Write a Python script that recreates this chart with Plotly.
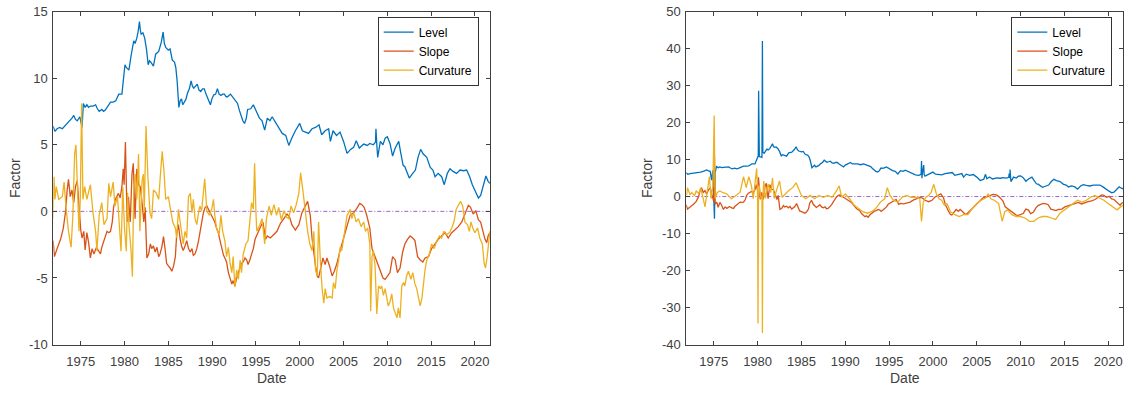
import pandas as pd
import plotly.graph_objects as go

# ---------------- data (decimal years) ----------------
level_t = [1971.85,1972.05,1972.3,1972.6,1972.9,1973.2,1973.5,1973.8,1974.0,1974.2,1974.4,1974.6,1974.9,
           1975.15,1975.3,1975.5,1975.7,1975.9,1976.1,1976.4,1976.7,1976.9,1977.1,1977.4,1977.6,1977.8,
           1978.1,1978.4,1978.7,1979.0,1979.2,1979.35,1979.7,1979.9,1980.05,1980.2,1980.5,1980.75,1981.05,
           1981.2,1981.4,1981.55,1981.7,1981.8,1981.9,1982.1,1982.3,1982.5,1982.7,1982.85,1983.0,1983.3,
           1983.55,1983.9,1984.2,1984.4,1984.55,1984.7,1985.0,1985.2,1985.45,1985.7,1985.85,1986.0,1986.2,
           1986.35,1986.5,1986.65,1986.8,1987.0,1987.2,1987.4,1987.6,1987.75,1987.9,1988.1,1988.3,1988.5,
           1988.7,1988.9,1989.1,1989.3,1989.5,1989.8,1990.0,1990.2,1990.4,1990.6,1990.8,1991.0,1991.2,
           1991.4,1991.6,1991.75,1992.1,1992.3,1992.5,1992.7,1992.9,1993.1,1993.3,1993.5,1993.7,1993.9,
           1994.05,1994.4,1994.7,1995.1,1995.4,1995.7,1996.0,1996.3,1996.6,1996.85,1997.2,1997.6,1998.0,
           1998.4,1998.75,1999.1,1999.5,2000.0,2000.3,2000.65,2001.0,2001.4,2001.8,2002.2,2002.5,2002.9,
           2003.3,2003.5,2003.8,2004.2,2004.6,2005.0,2005.4,2005.8,2006.15,2006.45,2006.8,2007.3,2007.7,
           2008.0,2008.4,2008.65,2008.7,2008.8,2008.9,2009.2,2009.5,2009.75,2010.0,2010.3,2010.6,2010.9,
           2011.3,2011.5,2011.8,2012.0,2012.3,2012.5,2012.9,2013.2,2013.5,2013.8,2014.1,2014.5,2014.9,
           2015.2,2015.45,2015.8,2016.2,2016.5,2016.85,2017.15,2017.5,2017.9,2018.3,2018.7,2019.05,2019.4,
           2019.7,2020.1,2020.4,2020.65,2020.95,2021.25,2021.5,2021.7]
level_v = [6.4,6.0,6.2,6.3,6.2,6.4,6.6,6.8,7.0,7.2,6.9,6.8,7.1,
           6.3,8.1,7.8,8.0,7.8,7.9,7.9,8.0,7.7,7.5,7.65,7.5,7.6,
           7.9,8.2,8.2,8.3,8.6,8.8,8.8,9.9,11.0,10.8,10.6,11.7,12.8,
           12.6,13.0,13.5,14.25,13.6,13.3,13.4,13.0,12.2,11.0,11.3,11.2,10.9,
           11.8,12.0,12.7,13.45,12.6,12.3,12.1,12.2,11.35,11.2,10.8,9.8,7.8,
           8.3,8.45,8.0,8.2,8.4,8.9,9.2,9.8,9.4,9.25,9.4,9.55,9.1,
           9.0,9.2,9.2,8.8,8.45,8.0,8.5,8.75,8.8,9.2,8.8,8.7,8.8,
           8.8,8.6,8.6,8.8,8.6,8.45,8.3,8.1,7.6,7.1,6.8,6.6,7.0,
           7.65,7.7,8.0,7.4,7.0,6.8,6.1,7.0,6.8,7.1,6.7,6.3,5.85,
           5.7,4.95,5.5,6.05,6.6,6.05,5.95,5.85,6.2,6.3,6.5,5.75,6.05,
           6.2,5.25,6.05,5.7,5.95,5.25,4.35,4.65,4.8,5.3,4.75,5.05,4.95,
           5.1,5.0,5.2,6.2,5.0,4.05,5.25,5.0,5.5,5.6,5.1,4.15,4.75,
           5.25,4.5,3.45,3.35,2.85,2.5,2.85,3.1,4.05,4.65,4.3,4.05,3.3,
           3.1,2.6,2.85,2.6,2.0,2.85,3.2,3.0,2.85,3.1,3.05,3.1,2.6,
           2.0,1.45,1.0,1.2,1.9,2.65,2.25,2.1]

slope_t = [1971.85,1972.0,1972.3,1972.7,1973.0,1973.25,1973.45,1973.6,1973.8,1974.0,1974.2,1974.4,1974.6,
           1974.8,1975.0,1975.15,1975.35,1975.5,1975.7,1975.9,1976.1,1976.3,1976.5,1976.8,1977.05,1977.25,
           1977.4,1977.6,1977.8,1978.0,1978.2,1978.4,1978.6,1978.75,1978.95,1979.15,1979.3,1979.5,1979.7,
           1979.85,1979.95,1980.1,1980.3,1980.45,1980.65,1980.85,1981.0,1981.2,1981.4,1981.6,1981.8,1982.0,
           1982.2,1982.35,1982.55,1982.75,1982.95,1983.1,1983.3,1983.5,1983.7,1983.9,1984.05,1984.25,1984.45,
           1984.65,1984.8,1985.0,1985.2,1985.4,1985.6,1985.8,1985.95,1986.15,1986.35,1986.55,1986.7,1986.9,
           1987.1,1987.3,1987.5,1987.7,1987.85,1988.05,1988.25,1988.45,1988.6,1988.8,1989.0,1989.2,1989.4,
           1989.55,1989.75,1989.95,1990.15,1990.3,1990.5,1990.7,1990.9,1991.1,1991.3,1991.45,1991.65,1991.85,
           1992.05,1992.25,1992.4,1992.6,1992.8,1993.0,1993.2,1993.35,1993.55,1993.75,1993.95,1994.1,1994.3,
           1994.5,1994.7,1994.9,1995.1,1995.3,1995.5,1995.8,1996.1,1996.3,1996.65,1997.0,1997.4,1997.8,
           1998.2,1998.55,1998.85,1999.1,1999.5,1999.9,2000.25,2000.65,2000.9,2001.2,2001.4,2001.8,2002.0,
           2002.15,2002.35,2002.65,2002.9,2003.1,2003.4,2003.7,2003.95,2004.25,2004.6,2005.0,2005.4,2005.75,
           2006.15,2006.5,2006.85,2007.1,2007.35,2007.65,2008.0,2008.25,2008.4,2008.75,2009.0,2009.25,2009.5,
           2009.75,2010.0,2010.3,2010.6,2010.9,2011.15,2011.45,2011.75,2012.0,2012.3,2012.6,2012.9,2013.15,
           2013.45,2013.75,2014.05,2014.3,2014.7,2015.05,2015.45,2015.8,2016.2,2016.6,2016.95,2017.35,2017.7,
           2018.1,2018.5,2018.85,2019.25,2019.5,2019.8,2020.1,2020.4,2020.65,2020.95,2021.15,2021.35,2021.5,
           2021.7]
slope_v = [-2.2,-3.4,-2.8,-2.1,-1.3,-0.1,1.6,2.4,1.1,1.6,0.65,1.85,2.3,
           0.2,-1.4,-2.0,-1.5,-2.9,-1.6,-2.35,-3.5,-2.8,-3.2,-2.7,-3.05,-3.2,
           -2.7,-2.35,-1.9,-1.5,-1.6,-1.5,-0.8,0.3,0.9,1.1,1.35,1.0,1.85,
           3.2,2.0,5.2,-0.8,1.1,-0.8,2.8,3.6,-0.55,3.2,2.0,1.85,0.65,
           -0.8,0.3,-3.5,-3.2,-2.45,-2.8,-2.6,-3.05,-2.7,-3.4,-3.2,-2.7,-1.9,
           -2.95,-3.9,-4.1,-4.25,-4.5,-4.1,-3.4,-1.75,-1.0,-2.1,-2.7,-2.95,-2.6,
           -2.2,-2.8,-3.05,-2.8,-3.3,-3.2,-2.8,-2.2,-1.6,-0.8,-0.1,0.3,0.4,
           0.2,-0.1,-0.3,-0.65,-0.8,-1.25,-1.6,-2.2,-2.8,-3.3,-3.5,-3.8,-4.6,
           -5.1,-5.45,-5.2,-5.6,-5.0,-4.6,-4.25,-3.9,-3.8,-3.5,-3.65,-4.0,-3.65,
           -3.3,-2.8,-2.1,-1.85,-1.5,-1.2,-0.8,-2.1,-1.85,-2.0,-1.75,-1.5,-0.9,
           -0.55,-0.2,-0.45,-1.0,-1.4,-1.0,-0.1,0.5,0.75,-0.3,-2.0,-4.1,-4.85,
           -5.0,-4.4,-3.5,-4.0,-3.5,-4.1,-4.85,-4.5,-3.9,-2.95,-2.0,-1.0,-0.3,
           -0.1,0.2,0.6,0.5,0.3,-0.3,-1.25,-2.8,-3.05,-3.65,-4.1,-4.6,-5.0,
           -5.1,-4.85,-4.6,-3.4,-3.65,-4.6,-4.25,-3.05,-2.45,-2.1,-1.85,-2.0,-2.2,
           -3.4,-3.65,-3.8,-3.5,-3.4,-2.8,-2.45,-2.1,-1.85,-1.6,-2.0,-1.6,-1.4,
           -1.15,-0.8,-0.2,0.45,0.3,-0.2,0.05,-0.65,-0.8,-1.5,-2.1,-2.35,-1.85,
           -1.6]

curv_t = [1971.8,1971.95,1972.05,1972.2,1972.5,1972.9,1973.1,1973.3,1973.6,1973.9,1974.1,1974.3,1974.45,
          1974.6,1974.8,1974.95,1975.1,1975.25,1975.45,1975.7,1976.1,1976.4,1976.7,1976.85,1977.1,1977.4,
          1977.65,1978.0,1978.2,1978.4,1978.7,1978.9,1979.2,1979.45,1979.6,1979.8,1980.0,1980.2,1980.35,
          1980.5,1980.75,1980.9,1981.05,1981.25,1981.4,1981.6,1981.75,1982.0,1982.15,1982.25,1982.45,1982.65,
          1982.9,1983.1,1983.3,1983.6,1983.9,1984.1,1984.3,1984.5,1984.7,1985.0,1985.25,1985.5,1985.8,
          1985.95,1986.15,1986.35,1986.55,1986.7,1986.9,1987.1,1987.3,1987.5,1987.7,1987.85,1988.05,1988.25,
          1988.45,1988.6,1988.8,1989.0,1989.15,1989.4,1989.7,1989.95,1990.15,1990.3,1990.5,1990.8,1991.0,
          1991.2,1991.45,1991.65,1991.85,1992.05,1992.25,1992.4,1992.6,1992.8,1993.0,1993.2,1993.35,1993.55,
          1993.85,1994.1,1994.3,1994.5,1994.7,1994.85,1995.0,1995.1,1995.45,1995.7,1996.0,1996.2,1996.5,
          1996.75,1997.05,1997.35,1997.6,1997.9,1998.2,1998.5,1998.75,1999.0,1999.3,1999.6,1999.9,2000.1,
          2000.4,2000.65,2000.9,2001.15,2001.4,2001.6,2001.8,2002.0,2002.15,2002.35,2002.55,2002.75,2002.9,
          2003.1,2003.4,2003.7,2003.85,2004.05,2004.25,2004.45,2004.6,2004.8,2005.0,2005.2,2005.4,2005.6,
          2005.75,2005.95,2006.15,2006.45,2006.7,2007.0,2007.3,2007.5,2007.75,2008.0,2008.1,2008.25,2008.4,
          2008.6,2008.8,2009.0,2009.2,2009.35,2009.55,2009.75,2009.95,2010.1,2010.3,2010.5,2010.7,2010.9,
          2011.1,2011.25,2011.45,2011.65,2011.85,2012.0,2012.2,2012.4,2012.7,2012.9,2013.15,2013.35,2013.55,
          2013.75,2013.95,2014.1,2014.3,2014.5,2014.8,2015.05,2015.35,2015.65,2015.95,2016.2,2016.45,2016.75,
          2017.1,2017.35,2017.6,2017.85,2018.1,2018.35,2018.6,2018.85,2019.15,2019.35,2019.55,2019.75,2020.0,
          2020.3,2020.55,2020.85,2021.05,2021.2,2021.4,2021.55,2021.7]
curv_v = [-0.55,2.6,0.9,1.85,0.9,1.1,2.2,0.4,-1.5,-2.7,-0.3,4.3,5.0,
          2.3,-1.5,0.9,8.1,0.9,1.85,0.9,2.0,-0.1,-1.5,-3.0,-0.3,0.65,
          -1.0,-0.55,2.1,1.1,2.2,0.4,1.1,-1.5,-3.0,1.85,-1.3,-3.0,1.4,
          -1.0,-3.0,-4.9,1.85,2.8,0.9,4.3,-1.5,2.3,2.8,-0.1,6.4,2.8,
          -0.1,-0.55,1.6,1.4,0.9,2.8,4.5,3.05,0.9,1.1,0.0,-0.8,-1.25,
          -2.0,0.15,-0.8,-1.85,-2.45,-1.5,-2.0,1.1,1.35,-0.1,0.9,-0.55,-1.0,
          -0.1,0.4,0.05,1.85,2.45,0.0,-0.3,0.15,0.9,-0.3,-1.25,-1.75,-0.3,
          -1.5,-2.2,-3.4,-2.7,-3.9,-4.6,-3.4,-5.7,-4.4,-5.1,-3.65,-4.6,-3.2,
          -2.45,-2.2,-0.55,0.65,0.15,3.6,-0.1,-1.5,-1.0,-0.55,-2.45,-0.55,0.4,
          -0.3,0.5,-0.3,0.3,-0.65,0.05,-0.45,-0.55,0.4,-0.1,0.5,1.35,2.9,
          1.35,-0.3,-1.5,-2.45,-2.95,-1.5,-4.4,-4.85,-0.8,-3.65,-5.8,-6.9,-5.8,
          -6.5,-6.4,-6.5,-5.35,-5.8,-4.4,-3.65,-2.7,-2.95,-2.0,-1.0,-0.3,-0.1,
          0.15,-0.55,-0.1,-0.8,-0.55,-1.15,-0.8,-1.5,-1.25,-2.45,-7.5,-3.4,-2.95,
          -4.1,-7.7,-5.6,-5.8,-5.6,-6.3,-5.8,-6.5,-7.1,-6.8,-6.2,-7.25,-7.7,
          -8.0,-7.25,-8.0,-5.6,-5.35,-5.6,-4.85,-4.5,-5.1,-4.6,-5.45,-5.8,-6.5,
          -7.1,-6.5,-5.35,-4.4,-3.65,-3.2,-2.45,-2.8,-2.2,-1.85,-2.0,-1.5,-1.75,
          -1.6,-1.25,-0.8,0.15,0.5,0.75,0.4,-0.8,-1.0,-1.5,-0.8,-1.25,-1.6,
          -1.25,-2.0,-2.45,-3.9,-4.25,-3.4,-2.45,-1.5]

# right panel: level and slope follow the left panel, plus the spikes seen there
level2_spike_t = [1974.75,1975.08,1980.08,1980.12,1980.17,1980.5,1980.55,1980.6,1998.65,1998.7,1998.8,1998.95,1999.0,2006.0,2008.8]
level2_spike_v = [4.4,-6.0,11.0,28.6,11.5,11.5,42.0,12.0,6.0,9.6,6.3,8.5,6.0,6.0,7.3]
slope2_spike_t = [1975.08]
slope2_spike_v = [11.0]

curv2_t = [1971.9,1972.0,1972.3,1972.5,1972.8,1973.0,1973.3,1973.5,1973.8,1974.0,1974.3,1974.5,1974.7,
           1974.9,1975.05,1975.15,1975.4,1975.7,1976.0,1976.5,1977.0,1977.5,1978.0,1978.4,1978.7,1979.0,
           1979.3,1979.5,1979.7,1979.9,1980.0,1980.05,1980.1,1980.2,1980.4,1980.5,1980.55,1980.6,1980.7,
           1980.9,1981.2,1981.5,1981.7,1981.9,1982.2,1982.5,1982.8,1983.0,1983.5,1984.0,1984.4,1984.7,
           1985.0,1985.5,1986.0,1986.5,1987.0,1987.5,1988.0,1988.5,1989.0,1989.3,1989.6,1990.0,1990.5,
           1991.0,1991.5,1992.0,1992.5,1993.0,1993.5,1994.0,1994.5,1994.8,1995.1,1995.5,1996.0,1996.5,
           1997.0,1997.5,1998.0,1998.5,1998.7,1998.9,1999.2,1999.5,1999.8,2000.1,2000.4,2000.7,2001.0,
           2001.3,2001.6,2002.0,2002.5,2003.0,2003.5,2004.0,2004.5,2005.0,2005.5,2006.0,2006.3,2006.6,
           2007.0,2007.5,2007.9,2008.2,2008.5,2009.0,2009.5,2010.0,2010.5,2011.0,2011.5,2012.0,2012.5,
           2013.0,2013.5,2014.0,2014.5,2015.0,2015.5,2016.0,2016.5,2017.0,2017.5,2018.0,2018.5,2019.0,
           2019.5,2020.0,2020.5,2021.0,2021.3,2021.7]
curv2_v = [0.3,2.4,0.5,1.1,0.2,1.5,0.8,2.4,-0.6,-2.8,2.0,5.4,-0.6,
           2.9,21.9,-0.6,1.1,1.5,1.1,0.7,-0.6,0.3,1.1,5.4,2.4,5.4,
           2.9,-0.6,4.6,7.6,0.5,-34.3,0.0,2.9,-0.6,0.0,-36.9,0.0,4.2,
           -0.5,3.3,1.1,5.0,-0.5,2.0,4.2,-0.2,0.3,1.5,2.4,3.7,2.0,
           0.3,-0.6,0.3,-0.6,0.3,-0.2,0.3,-0.2,1.5,2.9,-0.2,0.7,-0.6,
           -2.3,-3.2,-4.1,-4.5,-4.1,-3.2,-1.5,-0.6,2.4,0.3,-1.0,-1.5,-0.2,
           0.3,-0.2,-0.2,-0.6,-6.7,-1.5,-0.2,0.3,1.1,3.3,0.7,-0.6,-1.0,
           -2.3,-1.9,-4.1,-4.9,-5.4,-4.9,-4.9,-3.2,-1.9,-1.0,-0.4,0.7,-0.6,
           -1.0,-1.9,-6.7,-4.1,-3.6,-4.9,-5.4,-5.4,-5.8,-6.7,-6.7,-5.8,-5.4,
           -5.4,-5.8,-6.2,-4.5,-3.6,-2.8,-1.9,-1.0,-1.5,-1.0,-0.2,0.3,-0.4,
           -1.0,-1.9,-2.8,-3.6,-3.0,-2.3]

tick_years = [1975, 1980, 1985, 1990, 1995, 2000, 2005, 2010, 2015, 2020]
yticks_left = [-10, -5, 0, 5, 10, 15]
yticks_right = [-40, -30, -20, -10, 0, 10, 20, 30, 40, 50]
series_names = ["Level", "Slope", "Curvature"]
colors = ["#0072BD", "#D95319", "#EDB120"]


def to_dates(years):
    out = []
    for y in years:
        base = pd.Timestamp(year=int(y), month=1, day=1)
        out.append(base + pd.Timedelta(days=(y - int(y)) * 365.25))
    return out


def merged(t, v, st, sv):
    pairs = sorted(list(zip(t, v)) + list(zip(st, sv)))
    return [p[0] for p in pairs], [p[1] for p in pairs]


lev2_t, lev2_v = merged(level_t, level_v, level2_spike_t, level2_spike_v)
slo2_t, slo2_v = merged(slope_t, slope_v, slope2_spike_t, slope2_spike_v)

left = [(level_t, level_v), (slope_t, slope_v), (curv_t, curv_v)]
right = [(lev2_t, lev2_v), (slo2_t, slo2_v), (curv2_t, curv2_v)]

fig = go.Figure()
for i, (t, v) in enumerate(left):
    fig.add_trace(go.Scatter(x=to_dates(t), y=v, mode="lines", name=series_names[i],
                             line=dict(color=colors[i], width=1.3), xaxis="x", yaxis="y",
                             legend="legend"))
for i, (t, v) in enumerate(right):
    fig.add_trace(go.Scatter(x=to_dates(t), y=v, mode="lines", name=series_names[i],
                             line=dict(color=colors[i], width=1.3), xaxis="x2", yaxis="y2",
                             legend="legend2"))

W, H = 1126, 400
axis_col = "#404040"
font_fam = "Liberation Sans, Arial, sans-serif"

x_range = [pd.Timestamp("1971-11-14"), pd.Timestamp("2021-09-20")]
tickvals = [pd.Timestamp(year=y, month=1, day=1) for y in tick_years]
ticktext = [str(y) for y in tick_years]

common_x = dict(range=x_range, tickvals=tickvals, ticktext=ticktext, showline=True, mirror="ticks",
                linecolor=axis_col, linewidth=1, ticks="inside", ticklen=4, tickcolor=axis_col,
                showgrid=False, zeroline=False, ticklabelstandoff=5, ticklabeloverflow="allow",
                tickfont=dict(family=font_fam, size=13, color=axis_col))
common_y = dict(showline=True, mirror="ticks", linecolor=axis_col, linewidth=1, ticks="inside",
                ticklen=4, tickcolor=axis_col, showgrid=False, zeroline=False,
                ticklabeloverflow="allow", ticklabelstandoff=2,
                tickfont=dict(family=font_fam, size=13, color=axis_col))

yd = [(400 - 350.7) / H, 1 - 4.7 / H]
fig.update_layout(
    width=W, height=H, margin=dict(l=0, r=0, t=0, b=0),
    paper_bgcolor="white", plot_bgcolor="white",
    font=dict(family=font_fam, color=axis_col),
    xaxis=dict(domain=[53.3 / W, 490 / W], anchor="y", **common_x),
    yaxis=dict(domain=yd, anchor="x", range=[-10, 15], tickvals=yticks_left,
               ticktext=[str(v) for v in yticks_left], **common_y),
    xaxis2=dict(domain=[686.3 / W, 1123.3 / W], anchor="y2", **common_x),
    yaxis2=dict(domain=yd, anchor="x2", range=[-40, 50], tickvals=yticks_right,
                ticktext=[str(v) for v in yticks_right], **common_y),
    legend=dict(x=478.7 / W, xanchor="right", y=1 - 10 / H, yanchor="top", bgcolor="white",
                bordercolor="#333333", borderwidth=1, font=dict(family=font_fam, size=12, color="#000000")),
    legend2=dict(x=1112.3 / W, xanchor="right", y=1 - 10 / H, yanchor="top", bgcolor="white",
                 bordercolor="#333333", borderwidth=1, font=dict(family=font_fam, size=12, color="#000000")),
)

for xr, yr in [("x domain", "y"), ("x2 domain", "y2")]:
    fig.add_shape(type="line", xref=xr, yref=yr, x0=0, x1=1, y0=0, y1=0,
                  line=dict(color="#9966CC", width=1, dash="4px,2px,1px,2px"), layer="below")

for cx, fx in [(271.7, 15), (904.8, 647)]:
    fig.add_annotation(text="Date", x=cx / W, y=1 - 385 / H, xref="paper", yref="paper",
                       xanchor="center", yanchor="middle", showarrow=False,
                       font=dict(family=font_fam, size=14, color=axis_col))
    fig.add_annotation(text="Factor", x=fx / W, y=1 - 177.7 / H, xref="paper", yref="paper",
                       xanchor="center", yanchor="middle", showarrow=False, textangle=-90,
                       font=dict(family=font_fam, size=14, color=axis_col))

fig.write_html("out.html")
